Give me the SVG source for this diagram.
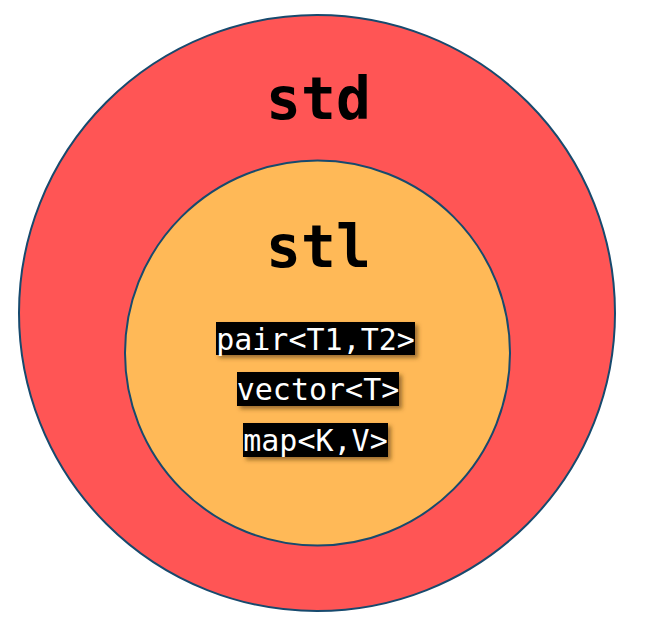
<svg xmlns="http://www.w3.org/2000/svg" width="646" height="628" viewBox="0 0 646 628">
<defs>
<filter id="sh" x="-10%" y="-30%" width="130%" height="170%">
<feDropShadow dx="3" dy="3" stdDeviation="2" flood-color="#5a3a10" flood-opacity="0.6"/>
</filter>
</defs>
<style>
.title{font-family:"DejaVu Sans Mono",monospace;font-weight:bold;font-size:58px;fill:#000;text-anchor:middle}
.code{font-family:"DejaVu Sans Mono",monospace;font-size:30px;fill:#fff;text-anchor:middle}
.box{fill:#000;filter:url(#sh)}
.ring{stroke:#174A6E;stroke-width:2}
</style>
<rect width="646" height="628" fill="#fff"/>
<g id="std">
<circle class="ring" cx="317" cy="313" r="298" fill="#FF5555"/>
<text class="title" x="318.5" y="119">std</text>
</g>
<g id="stl">
<circle class="ring" cx="317.5" cy="353" r="192.5" fill="#FFB957"/>
<text class="title" x="318.5" y="267">stl</text>
</g>
<g id="pair">
<rect class="box" x="216" y="322" width="199" height="33"/>
<text class="code" x="315.5" y="350">pair&lt;T1,T2&gt;</text>
</g>
<g id="vector">
<rect class="box" x="237" y="372" width="162" height="34"/>
<text class="code" x="318" y="400">vector&lt;T&gt;</text>
</g>
<g id="map">
<rect class="box" x="243" y="423" width="145" height="34"/>
<text class="code" x="315.5" y="451">map&lt;K,V&gt;</text>
</g>
<g id="connectors"/>
</svg>
